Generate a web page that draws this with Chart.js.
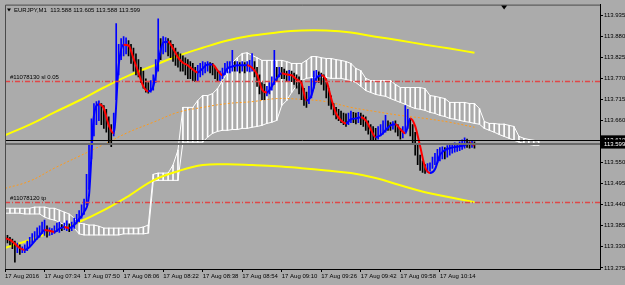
<!DOCTYPE html>
<html>
<head>
<meta charset="utf-8">
<script src="https://cdn.jsdelivr.net/npm/chart.js@4.4.0/dist/chart.umd.min.js"></script>
<style>
  html, body { margin: 0; padding: 0; background: #ababab; }
  #chart { display: block; }
</style>
</head>
<body>
<canvas id="chart" width="625" height="285"></canvas>
<script>
// EURJPY M1, minutes counted from 07:18
const xTickMinutes = [0, 16, 32, 48, 64, 80, 96, 112, 128, 144, 160, 176];
const xTickLabels = ['17 Aug 2016', '17 Aug 07:34', '17 Aug 07:50', '17 Aug 08:06', '17 Aug 08:22', '17 Aug 08:38',
    '17 Aug 08:54', '17 Aug 09:10', '17 Aug 09:26', '17 Aug 09:42', '17 Aug 09:58', '17 Aug 10:14'];
const yTicks = [113.275, 113.330, 113.385, 113.440, 113.495, 113.550, 113.605, 113.660, 113.715, 113.770, 113.825, 113.880, 113.935];

// one bar per minute (0..190)
const barHigh = [
    113.365,113.360,113.355,113.350,113.345,113.340,113.335,113.330,113.335,113.345,
    113.355,113.365,113.370,113.380,113.385,113.395,113.400,113.385,113.380,113.378,
    113.385,113.392,113.395,113.388,113.392,113.398,113.390,113.395,113.405,113.415,
    113.425,113.440,113.455,113.520,113.600,113.665,113.705,113.710,113.712,113.705,
    113.700,113.690,113.670,113.650,113.680,113.914,113.860,113.875,113.880,113.877,
    113.870,113.860,113.850,113.835,113.820,113.800,113.790,113.770,113.760,113.765,
    113.780,113.820,113.927,113.875,113.880,113.878,113.875,113.870,113.860,113.850,
    113.840,113.835,113.830,113.825,113.820,113.815,113.810,113.800,113.805,113.810,
    113.815,113.812,113.815,113.812,113.810,113.800,113.790,113.790,113.798,113.810,
    113.815,113.815,113.844,113.815,113.815,113.812,113.815,113.812,113.815,113.818,
    113.836,113.815,113.800,113.780,113.760,113.755,113.750,113.760,113.775,113.844,
    113.800,113.800,113.800,113.795,113.790,113.792,113.790,113.785,113.780,113.775,
    113.765,113.745,113.735,113.750,113.770,113.790,113.792,113.788,113.785,113.780,
    113.770,113.745,113.725,113.705,113.695,113.690,113.685,113.680,113.678,113.680,
    113.685,113.682,113.680,113.682,113.680,113.675,113.670,113.660,113.650,113.645,
    113.640,113.645,113.650,113.660,113.674,113.660,113.655,113.658,113.660,113.650,
    113.640,113.645,113.700,113.690,113.665,113.650,113.630,113.600,113.570,113.555,
    113.545,113.548,113.550,113.565,113.575,113.585,113.590,113.592,113.590,113.595,
    113.600,113.598,113.602,113.600,113.605,113.610,113.615,113.612,113.605,113.608,113.605
];
const barLow = [
    113.345,113.340,113.335,113.325,113.290,113.315,113.310,113.315,113.315,113.320,
    113.330,113.340,113.345,113.350,113.355,113.365,113.360,113.355,113.360,113.362,
    113.365,113.370,113.368,113.372,113.375,113.372,113.370,113.372,113.378,113.390,
    113.395,113.405,113.415,113.440,113.480,113.560,113.620,113.650,113.660,113.650,
    113.640,113.630,113.600,113.592,113.620,113.715,113.780,113.820,113.830,113.835,
    113.830,113.810,113.790,113.780,113.775,113.760,113.745,113.735,113.732,113.735,
    113.740,113.760,113.790,113.820,113.835,113.840,113.830,113.825,113.815,113.805,
    113.800,113.790,113.790,113.780,113.770,113.770,113.765,113.762,113.765,113.775,
    113.780,113.785,113.790,113.785,113.780,113.770,113.765,113.765,113.770,113.780,
    113.785,113.785,113.790,113.790,113.790,113.785,113.790,113.785,113.790,113.788,
    113.790,113.775,113.750,113.730,113.715,113.715,113.725,113.730,113.740,113.755,
    113.765,113.775,113.770,113.770,113.765,113.765,113.762,113.755,113.745,113.730,
    113.715,113.700,113.695,113.705,113.720,113.745,113.760,113.760,113.755,113.740,
    113.720,113.700,113.690,113.675,113.665,113.660,113.655,113.650,113.645,113.650,
    113.655,113.655,113.652,113.655,113.650,113.645,113.635,113.625,113.610,113.608,
    113.610,113.612,113.620,113.625,113.630,113.635,113.635,113.638,113.630,113.620,
    113.612,113.615,113.630,113.640,113.620,113.600,113.570,113.545,113.530,113.525,
    113.522,113.525,113.528,113.535,113.545,113.550,113.555,113.560,113.560,113.565,
    113.570,113.575,113.578,113.580,113.582,113.585,113.588,113.590,113.588,113.590,113.588
];

// colour-changing moving average, every 2 minutes (0..190)
const maValues = [
    113.353,113.348,113.338,113.327,113.322,113.330,113.345,113.359,113.374,113.372,
    113.369,113.377,113.382,113.379,113.387,113.403,113.421,113.465,113.674,113.703,
    113.692,113.648,113.627,113.805,113.859,113.857,113.823,113.786,113.750,113.737,
    113.750,113.812,113.865,113.867,113.849,113.826,113.812,113.805,113.794,113.786,
    113.797,113.807,113.807,113.792,113.779,113.797,113.802,113.805,113.805,113.805,
    113.799,113.781,113.742,113.734,113.750,113.771,113.784,113.781,113.779,113.768,
    113.758,113.713,113.726,113.771,113.779,113.766,113.719,113.679,113.661,113.653,
    113.664,113.666,113.669,113.661,113.638,113.617,113.622,113.635,113.648,113.651,
    113.638,113.627,113.666,113.646,113.593,113.539,113.523,113.533,113.570,113.583,
    113.588,113.591,113.593,113.596,113.601,113.596
];

// ichimoku cloud spans, every 2 minutes (0..216)
const senkouA = [
    113.431,113.431,113.431,113.431,113.431,113.431,113.434,113.434,113.434,113.431,
    113.431,113.426,113.421,113.416,113.405,113.392,113.390,113.387,113.387,113.384,
    113.379,113.379,113.379,113.379,113.379,113.379,113.379,113.379,113.382,113.387,
    113.520,113.523,113.523,113.523,113.544,113.583,113.695,113.695,113.695,113.713,
    113.726,113.726,113.731,113.744,113.765,113.786,113.812,113.825,113.836,113.838,
    113.831,113.825,113.818,113.818,113.818,113.818,113.818,113.815,113.810,113.810,
    113.810,113.818,113.828,113.828,113.825,113.823,113.823,113.820,113.818,113.815,
    113.810,113.797,113.791,113.771,113.765,113.765,113.765,113.765,113.765,113.755,
    113.747,113.747,113.747,113.747,113.747,113.744,113.726,113.724,113.721,113.718,
    113.708,113.708,113.708,113.708,113.705,113.705,113.692,113.658,113.653,113.653,
    113.651,113.651,113.648,113.645,113.619,113.614,113.611,113.609,113.606
];
const senkouB = [
    113.418,113.418,113.418,113.418,113.416,113.416,113.416,113.416,113.408,113.403,
    113.400,113.395,113.387,113.384,113.379,113.364,113.361,113.361,113.361,113.361,
    113.361,113.361,113.361,113.361,113.364,113.364,113.364,113.364,113.364,113.366,
    113.502,113.504,113.504,113.504,113.504,113.504,113.604,113.604,113.604,113.604,
    113.604,113.617,113.627,113.632,113.635,113.635,113.637,113.637,113.640,113.640,
    113.643,113.645,113.648,113.653,113.656,113.661,113.700,113.713,113.734,113.752,
    113.765,113.771,113.773,113.773,113.773,113.773,113.771,113.771,113.771,113.768,
    113.765,113.760,113.750,113.739,113.734,113.729,113.726,113.724,113.718,113.713,
    113.708,113.703,113.697,113.692,113.690,113.687,113.682,113.679,113.674,113.671,
    113.666,113.664,113.661,113.658,113.656,113.653,113.651,113.640,113.635,113.630,
    113.624,113.619,113.614,113.609,113.604,113.601,113.598,113.596,113.596
];

// envelope around a long average, every 10 minutes (0..190)
const envUpper = [113.622,113.650,113.682,113.713,113.747,113.778,113.804,113.830,113.851,113.870,
    113.883,113.891,113.896,113.896,113.891,113.880,113.870,113.859,113.849,113.838];
const envMiddle = [113.483,113.502,113.536,113.567,113.598,113.630,113.656,113.682,113.695,113.705,
    113.710,113.718,113.716,113.710,113.695,113.684,113.674,113.666,113.656,113.643];
const envLower = [113.327,113.348,113.371,113.395,113.426,113.463,113.504,113.528,113.544,113.546,
    113.544,113.541,113.536,113.530,113.523,113.510,113.491,113.473,113.460,113.447];

const slPrice = 113.763, tpPrice = 113.447;
const slLabel = '#11078130 sl 0.05', tpLabel = '#11078120 tp';
const bidPrice = 113.599, askPrice = 113.610;
const headerText = 'EURJPY,M1  113.588 113.605 113.588 113.599';

const FONT = 'Liberation Sans, Arial, sans-serif';

const bars = barHigh.map((h, i) => ({ x: i, y: [barLow[i], h] }));
const barColors = barHigh.map((h, i) => {
    if (i === 0) return '#0000ff';
    return (h + barLow[i]) >= (barHigh[i - 1] + barLow[i - 1]) ? '#0000ff' : '#000000';
});
const maData = maValues.map((v, i) => ({ x: i * 2, y: v }));
const cloudHatch = senkouA.map((a, i) => ({ x: i * 2, y: [senkouB[i], a] }));
const spanAData = senkouA.map((v, i) => ({ x: i * 2, y: v }));
const spanBData = senkouB.map((v, i) => ({ x: i * 2, y: v }));
const envData = arr => arr.map((v, i) => ({ x: i * 10, y: v }));

const overlay = {
    id: 'overlay',
    afterDatasetsDraw(chart) {
        const { ctx, chartArea: a, scales: { x, y } } = chart;
        ctx.save();
        // order levels
        ctx.strokeStyle = '#e04646';
        ctx.lineWidth = 1.5;
        ctx.setLineDash([5, 2, 1, 2]);
        [slPrice, tpPrice].forEach(p => {
            const py = Math.round(y.getPixelForValue(p)) + 0.5;
            ctx.beginPath(); ctx.moveTo(a.left, py); ctx.lineTo(a.right, py); ctx.stroke();
        });
        ctx.setLineDash([]);
        ctx.fillStyle = '#000';
        ctx.font = '6px ' + FONT;
        ctx.textBaseline = 'bottom';
        ctx.textAlign = 'left';
        ctx.fillText(slLabel, a.left + 5, y.getPixelForValue(slPrice) - 1);
        ctx.fillText(tpLabel, a.left + 5, y.getPixelForValue(tpPrice) - 1);
        // bid / ask lines
        let py = Math.round(y.getPixelForValue(bidPrice));
        ctx.strokeStyle = '#6a6a6a'; ctx.lineWidth = 2;
        ctx.beginPath(); ctx.moveTo(a.left, py); ctx.lineTo(a.right, py); ctx.stroke();
        py = Math.round(y.getPixelForValue(askPrice)) + 0.5;
        ctx.strokeStyle = '#000'; ctx.lineWidth = 1;
        ctx.beginPath(); ctx.moveTo(a.left, py); ctx.lineTo(a.right, py); ctx.stroke();
        // frame
        ctx.strokeStyle = '#4a4a4a';
        ctx.beginPath();
        ctx.moveTo(a.left + 0.5, a.bottom); ctx.lineTo(a.left + 0.5, a.top + 0.5); ctx.lineTo(a.right, a.top + 0.5);
        ctx.stroke();
        ctx.restore();
    },
    afterDraw(chart) {
        const { ctx, chartArea: a, scales: { y } } = chart;
        ctx.save();
        ctx.font = '6px ' + FONT;
        ctx.textBaseline = 'middle';
        ctx.textAlign = 'left';
        // price boxes on the axis
        [askPrice, bidPrice].forEach(p => {
            const py = y.getPixelForValue(p);
            ctx.fillStyle = '#000';
            ctx.fillRect(a.right + 1, py - 4.5, 24, 9);
            ctx.fillStyle = '#fff';
            ctx.fillText(p.toFixed(3), a.right + 4, py);
        });
        // header
        ctx.fillStyle = '#000';
        ctx.beginPath();
        ctx.moveTo(a.left + 2, a.top + 4); ctx.lineTo(a.left + 6, a.top + 4); ctx.lineTo(a.left + 4, a.top + 7);
        ctx.closePath(); ctx.fill();
        ctx.fillText(headerText, a.left + 9, a.top + 6);
        // chart shift marker
        const sx = chart.scales.x.getPixelForValue(202);
        ctx.beginPath();
        ctx.moveTo(sx - 3, a.top + 1); ctx.lineTo(sx + 3, a.top + 1); ctx.lineTo(sx, a.top + 5);
        ctx.closePath(); ctx.fill();
        ctx.restore();
    }
};

new Chart(document.getElementById('chart').getContext('2d'), {
    type: 'line',
    data: {
        datasets: [
            {
                type: 'bar', label: 'cloud', data: cloudHatch, backgroundColor: '#ffffff',
                barThickness: 1, grouped: false, borderWidth: 0, order: 9
            },
            { label: 'spanA', data: spanAData, borderColor: '#ffffff', borderWidth: 1, pointRadius: 0, order: 8 },
            { label: 'spanB', data: spanBData, borderColor: '#ffffff', borderWidth: 1, pointRadius: 0, order: 8 },
            {
                label: 'envMiddle', data: envData(envMiddle), borderColor: '#ff9a1a', borderWidth: 1,
                borderDash: [2, 2], pointRadius: 0, tension: 0.4, order: 7
            },
            { label: 'envUpper', data: envData(envUpper), borderColor: '#ffff00', borderWidth: 2, pointRadius: 0, tension: 0.4, order: 6 },
            { label: 'envLower', data: envData(envLower), borderColor: '#ffff00', borderWidth: 2, pointRadius: 0, tension: 0.4, order: 6 },
            {
                type: 'bar', label: 'bars', data: bars, backgroundColor: barColors,
                barThickness: 1, grouped: false, borderWidth: 0, order: 5
            },
            {
                label: 'ma', data: maData, borderWidth: 2, pointRadius: 0, cubicInterpolationMode: 'monotone', order: 1,
                segment: { borderColor: c => c.p1.parsed.y >= c.p0.parsed.y ? '#0000ff' : '#ff0000' }
            }
        ]
    },
    options: {
        responsive: false,
        animation: false,
        devicePixelRatio: 1,
        layout: { padding: { left: 5, top: 4, right: 0, bottom: 0 } },
        plugins: { legend: { display: false }, tooltip: { enabled: false } },
        scales: {
            x: {
                type: 'linear', min: 0, max: 240.8, offset: false,
                grid: { drawOnChartArea: false, offset: false, tickLength: 3, color: '#000' },
                border: { color: '#000', width: 1 },
                afterBuildTicks: s => { s.ticks = xTickMinutes.map(v => ({ value: v })); },
                afterFit: s => { s.height = 16; },
                ticks: {
                    autoSkip: false, maxRotation: 0, align: 'start', padding: 1, color: '#000',
                    font: { family: FONT, size: 6 },
                    callback: (v) => xTickLabels[xTickMinutes.indexOf(v)]
                }
            },
            y: {
                type: 'linear', position: 'right', min: 113.272, max: 113.964, beginAtZero: false,
                grid: { drawOnChartArea: false, tickLength: 3, color: '#000' },
                border: { color: '#000', width: 1 },
                afterBuildTicks: s => { s.ticks = yTicks.map(v => ({ value: v })); },
                afterFit: s => { s.width = 25; },
                ticks: {
                    padding: 1, color: '#000', font: { family: FONT, size: 6 },
                    callback: v => v.toFixed(3)
                }
            }
        }
    },
    plugins: [overlay]
});
</script>
</body>
</html>
